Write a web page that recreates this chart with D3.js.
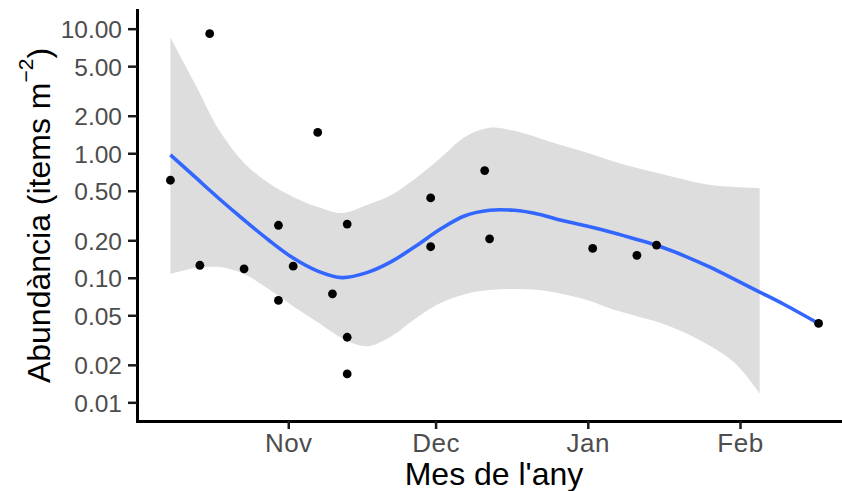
<!DOCTYPE html>
<html><head><meta charset="utf-8">
<script src="https://cdn.jsdelivr.net/npm/d3@7"></script>
<style>body{margin:0;background:#fff} svg{display:block}</style>
</head><body>
<svg id="chart" width="842" height="491"></svg>
<script>
// ---- data ----
const pointDates = ["2019-10-08","2019-10-14","2019-10-16","2019-10-23","2019-10-30","2019-10-30","2019-11-02","2019-11-07","2019-11-10","2019-11-13","2019-11-13","2019-11-13","2019-11-30","2019-11-30","2019-12-11","2019-12-12","2020-01-02","2020-01-11","2020-01-15","2020-02-17"];
const pointValues = [0.607,0.126,9.12,0.118,0.264,0.0658,0.124,1.47,0.0743,0.270,0.0333,0.0169,0.438,0.1775,0.725,0.2056,0.172,0.1514,0.183,0.0430];

const fitDates = ["2019-10-08","2019-10-13","2019-10-18","2019-10-23","2019-10-28","2019-11-02","2019-11-07","2019-11-12","2019-11-17","2019-11-22","2019-11-27","2019-12-02","2019-12-07","2019-12-12","2019-12-17","2019-12-22","2019-12-27","2020-01-01","2020-01-06","2020-01-11","2020-01-16","2020-01-21","2020-01-26","2020-01-31","2020-02-05","2020-02-10","2020-02-17"];
const fitValues = [0.970,0.645,0.429,0.291,0.201,0.144,0.1132,0.1003,0.1100,0.1349,0.1798,0.2463,0.315,0.349,0.348,0.324,0.287,0.259,0.231,0.203,0.1765,0.148,0.121,0.0965,0.0768,0.061,0.0429];

const bandDates = ["2019-10-08","2019-10-13","2019-10-18","2019-10-23","2019-10-28","2019-11-02","2019-11-07","2019-11-12","2019-11-17","2019-11-22","2019-11-27","2019-12-02","2019-12-07","2019-12-12","2019-12-17","2019-12-22","2019-12-27","2020-01-01","2020-01-06","2020-01-11","2020-01-16","2020-01-21","2020-01-26","2020-01-31","2020-02-05"];
const bandUpper = [8.47,3.61,1.512,0.836,0.577,0.4455,0.370,0.331,0.384,0.462,0.633,0.917,1.353,1.599,1.512,1.328,1.146,1.006,0.868,0.762,0.682,0.610,0.556,0.536,0.526];
const bandLower = [0.107,0.1196,0.1218,0.107,0.0811,0.0592,0.0440,0.0327,0.0282,0.0340,0.0474,0.0626,0.0739,0.0796,0.0811,0.0796,0.0739,0.0661,0.0560,0.0492,0.0432,0.0359,0.0282,0.0206,0.0118];

const yTickValues = [0.01,0.02,0.05,0.1,0.2,0.5,1,2,5,10];
const yLimits = [0.01, 10];
const xTickDates = ["2019-11-01","2019-12-01","2020-01-01","2020-02-01"];
const xTickLabels = ["Nov","Dec","Jan","Feb"];
const xTitle = "Mes de l'any";
const yTitleMain = "Abundància (items m";
const yTitleSup = "\u22122";
const yTitleEnd = ")";

(function(){
// ---- layout ----
const parse = d3.utcParse("%Y-%m-%d");
const pL = 137, pR = 851, pT = 10, pB = 421;
const FONT = "'Liberation Sans', Arial, Helvetica, sans-serif";

const pts = pointDates.map((d,i)=>({date:parse(d), v:pointValues[i]}));
const fit = fitDates.map((d,i)=>({date:parse(d), v:fitValues[i]}));
const band = bandDates.map((d,i)=>({date:parse(d), lo:bandLower[i], hi:bandUpper[i]}));

// x: data range expanded by 5% each side (ggplot default)
const ext = d3.extent(pts, d=>d.date);
const span = ext[1]-ext[0];
const x = d3.scaleUtc()
  .domain([new Date(+ext[0]-0.05*span), new Date(+ext[1]+0.05*span)])
  .range([pL+1, pR]);

// y: log limits expanded by 5% of the log range
const lg = yLimits.map(Math.log10), lspan = lg[1]-lg[0];
const y = d3.scaleLog()
  .domain([Math.pow(10, lg[0]-0.05*lspan), Math.pow(10, lg[1]+0.05*lspan)])
  .range([pB, pT]);

const svg = d3.select("#chart");
const smooth = d3.curveCatmullRom.alpha(0.5);

// ribbon
svg.append("path")
  .datum(band)
  .attr("d", d3.area().curve(smooth)
    .x(d=>x(d.date)).y0(d=>y(d.lo)).y1(d=>y(d.hi)))
  .attr("fill", "#999999").attr("fill-opacity", 0.33);

// smooth line
svg.append("path")
  .datum(fit)
  .attr("d", d3.line().curve(smooth).x(d=>x(d.date)).y(d=>y(d.v)))
  .attr("fill","none").attr("stroke","#3366FF").attr("stroke-width",3.6)
  .attr("stroke-linecap","butt");

// points
svg.append("g").selectAll("circle").data(pts).join("circle")
  .attr("cx", d=>x(d.date)).attr("cy", d=>y(d.v)).attr("r", 4.4).attr("fill","#000");

// axes
const yAxis = svg.append("g").attr("transform", `translate(${pL},0)`)
  .call(d3.axisLeft(y).tickValues(yTickValues).tickFormat(d3.format(".2f"))
    .tickSize(9).tickSizeOuter(0).tickPadding(6));
yAxis.selectAll("text").attr("font-family", FONT).attr("font-size", 24.5)
  .attr("fill","#4d4d4d").attr("dy","0.36em");

const xAxis = svg.append("g").attr("transform", `translate(0,${pB})`)
  .call(d3.axisBottom(x).tickValues(xTickDates.map(parse))
    .tickFormat((d,i)=>xTickLabels[i]).tickSize(8).tickSizeOuter(0).tickPadding(5));
xAxis.selectAll("text").attr("font-family", FONT).attr("font-size", 26)
  .attr("fill","#4d4d4d").attr("letter-spacing", 0.5);

[yAxis, xAxis].forEach(a=>{
  a.select(".domain").attr("stroke","#000").attr("stroke-width",3).attr("stroke-linecap","square");
  a.selectAll(".tick line").attr("stroke","#1a1a1a").attr("stroke-width",2.5);
});

// titles
svg.append("text")
  .attr("x", (pL+pR)/2).attr("y", 485)
  .attr("text-anchor","middle").attr("font-family", FONT).attr("font-size", 32)
  .attr("fill","#000").text(xTitle);

const yt = svg.append("text")
  .attr("transform", `translate(49.5,${(pT+pB)/2}) rotate(-90)`)
  .attr("text-anchor","middle").attr("font-family", FONT).attr("font-size", 32)
  .attr("fill","#000");
yt.append("tspan").text(yTitleMain);
yt.append("tspan").attr("font-size", 21).attr("dy", -17).text(yTitleSup);
yt.append("tspan").attr("font-size", 32).attr("dy", 17).text(yTitleEnd);
})();
</script>
</body></html>
